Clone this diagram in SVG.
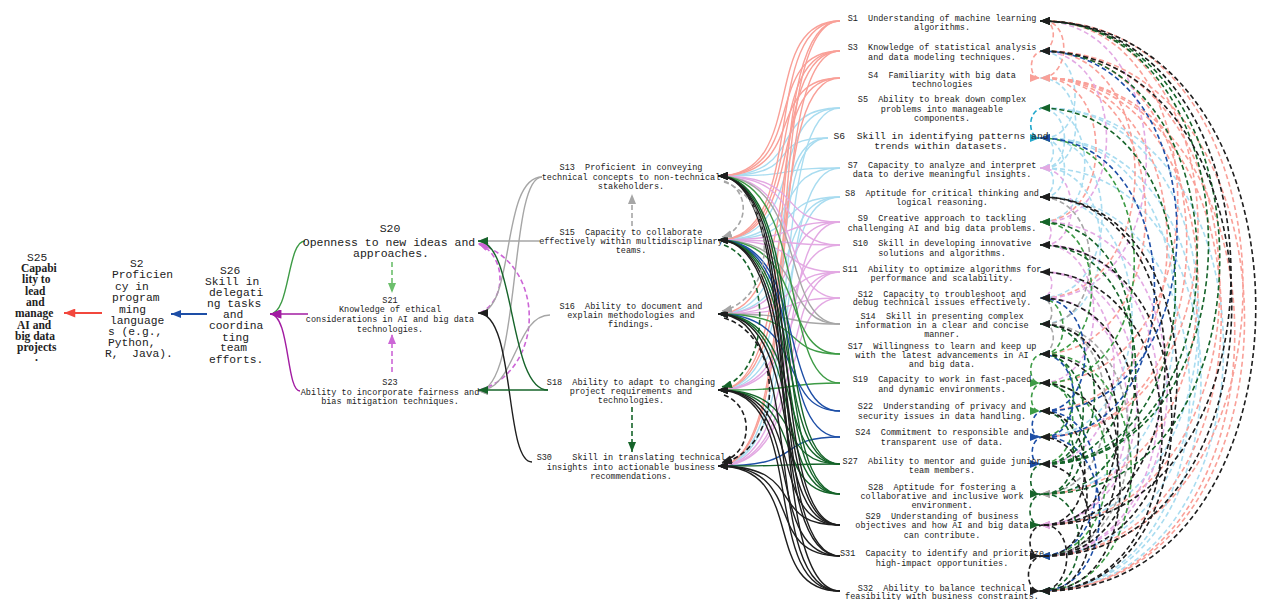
<svg xmlns="http://www.w3.org/2000/svg" width="1268" height="600" viewBox="0 0 1268 600">
<style>
text{font-family:"Liberation Mono","DejaVu Sans Mono",monospace;fill:#222;white-space:pre;}
.t{font-size:8.5px;text-anchor:middle;}
.L{font-size:11.3px;}
.sr{font-family:"Liberation Serif","Times New Roman",serif;font-weight:bold;font-size:11.5px;}
.d{fill:none;stroke-width:1.6;stroke-dasharray:5 3;}
.s{fill:none;stroke-width:1.4;}
.k{stroke:#1e1e1e;marker-end:url(#mk)}
.g{stroke:#16642a;marker-end:url(#mg)}
.lg{stroke:#3d9b45;marker-end:url(#mlg)}
.b{stroke:#1d4ea6;marker-end:url(#mb)}
.lb{stroke:#a9dcf0;marker-end:url(#mlb)}
.p{stroke:#e3a9e3;marker-end:url(#mp)}
.gr{stroke:#a6a6a6;marker-end:url(#mgr)}
.sa{stroke:#f9a098;marker-end:url(#msa)}
.c{stroke:#22a8cc;marker-end:url(#mc)}
.rd{stroke:#f2473c;marker-end:url(#mrd)}
.pu{stroke:#a21ca2;marker-end:url(#mpu)}
.pd{stroke:#cc66d6;marker-end:url(#mpd)}
.lgd{stroke:#6cbf6c;marker-end:url(#mlgd)}
</style>
<defs>
<marker id="mk" viewBox="0 0 10 8" refX="10" refY="4" markerWidth="10" markerHeight="8" markerUnits="userSpaceOnUse" orient="auto"><path d="M0 0L10 4L0 8z" fill="#1e1e1e"/></marker>
<marker id="mg" viewBox="0 0 10 8" refX="10" refY="4" markerWidth="10" markerHeight="8" markerUnits="userSpaceOnUse" orient="auto"><path d="M0 0L10 4L0 8z" fill="#16642a"/></marker>
<marker id="mlg" viewBox="0 0 10 8" refX="10" refY="4" markerWidth="10" markerHeight="8" markerUnits="userSpaceOnUse" orient="auto"><path d="M0 0L10 4L0 8z" fill="#3d9b45"/></marker>
<marker id="mb" viewBox="0 0 10 8" refX="10" refY="4" markerWidth="10" markerHeight="8" markerUnits="userSpaceOnUse" orient="auto"><path d="M0 0L10 4L0 8z" fill="#1d4ea6"/></marker>
<marker id="mlb" viewBox="0 0 10 8" refX="10" refY="4" markerWidth="10" markerHeight="8" markerUnits="userSpaceOnUse" orient="auto"><path d="M0 0L10 4L0 8z" fill="#a9dcf0"/></marker>
<marker id="mp" viewBox="0 0 10 8" refX="10" refY="4" markerWidth="10" markerHeight="8" markerUnits="userSpaceOnUse" orient="auto"><path d="M0 0L10 4L0 8z" fill="#e3a9e3"/></marker>
<marker id="mgr" viewBox="0 0 10 8" refX="10" refY="4" markerWidth="10" markerHeight="8" markerUnits="userSpaceOnUse" orient="auto"><path d="M0 0L10 4L0 8z" fill="#a6a6a6"/></marker>
<marker id="msa" viewBox="0 0 10 8" refX="10" refY="4" markerWidth="10" markerHeight="8" markerUnits="userSpaceOnUse" orient="auto"><path d="M0 0L10 4L0 8z" fill="#f9a098"/></marker>
<marker id="mc" viewBox="0 0 10 8" refX="10" refY="4" markerWidth="10" markerHeight="8" markerUnits="userSpaceOnUse" orient="auto"><path d="M0 0L10 4L0 8z" fill="#22a8cc"/></marker>
<marker id="mrd" viewBox="0 0 10 8" refX="10" refY="4" markerWidth="12" markerHeight="9" markerUnits="userSpaceOnUse" orient="auto"><path d="M0 0L10 4L0 8z" fill="#f2473c"/></marker>
<marker id="mpu" viewBox="0 0 10 8" refX="10" refY="4" markerWidth="12" markerHeight="9" markerUnits="userSpaceOnUse" orient="auto"><path d="M0 0L10 4L0 8z" fill="#a21ca2"/></marker>
<marker id="mpd" viewBox="0 0 10 8" refX="10" refY="4" markerWidth="10" markerHeight="8" markerUnits="userSpaceOnUse" orient="auto"><path d="M0 0L10 4L0 8z" fill="#cc66d6"/></marker>
<marker id="mlgd" viewBox="0 0 10 8" refX="10" refY="4" markerWidth="10" markerHeight="8" markerUnits="userSpaceOnUse" orient="auto"><path d="M0 0L10 4L0 8z" fill="#6cbf6c"/></marker>
</defs>
<rect width="1268" height="600" fill="#fff"/>
<g id="connectors">
<g id="arcs-lightblue">
<path class="d c" d="M1044 108C1027 108 1027 138 1040 138"/>
<path class="d lb" d="M1044 138C1057 138 1057 168 1040 168"/>
<path class="d lb" d="M1044 168C1057 168 1057 197 1040 197"/>
<path class="d lb" d="M1044 108C1251 108 1251 525 1040 525"/>
<path class="d lb" d="M1044 138C1251 138 1251 556 1040 556"/>
<path class="d lb" d="M1044 168C1254 168 1254 591 1040 591"/>
<path class="d lb" d="M1044 108C1284 108 1284 591 1040 591"/>
<path class="d lb" d="M1044 138C1220 138 1220 494 1040 494"/>
<path class="d lb" d="M1044 197C1162 197 1162 437 1040 437"/>
<path class="d lb" d="M1044 168C1120 168 1120 324 1040 324"/>
<path class="d lb" d="M1044 108C1099 108 1099 222 1040 222"/>
<path class="d lb" d="M1044 138C1122 138 1122 298 1040 298"/>
<path class="d lb" d="M1044 168C1072 168 1072 108 1040 108"/>
<path class="d lb" d="M1044 197C1072 197 1072 138 1040 138"/>
<path class="d lb" d="M1044 168C1087 168 1087 78 1040 78"/>
<path class="d lb" d="M1044 138C1086 138 1086 51 1040 51"/>
<path class="d lb" d="M1044 197C1239 197 1239 591 1040 591"/>
</g>
<g id="arcs-salmon">
<path class="d sa" d="M1044 21C1310 21 1310 556 1040 556"/>
<path class="d sa" d="M1044 51C1312 51 1312 591 1040 591"/>
<path class="d sa" d="M1044 78C1299 78 1299 591 1040 591"/>
<path class="d sa" d="M1044 51C1279 51 1279 525 1040 525"/>
<path class="d sa" d="M1044 78C1250 78 1250 494 1040 494"/>
<path class="d sa" d="M1044 51C1235 51 1235 437 1040 437"/>
<path class="d sa" d="M1044 21C1223 21 1223 383 1040 383"/>
<path class="d sa" d="M1044 78C1180 78 1180 354 1040 354"/>
<path class="d sa" d="M1044 51C1166 51 1166 298 1040 298"/>
<path class="d sa" d="M1044 21C1057 21 1057 51 1040 51"/>
<path class="d sa" d="M1044 51C1028 51 1028 78 1040 78"/>
<path class="d sa" d="M1044 78C1114 78 1114 222 1040 222"/>
<path class="d sa" d="M1044 21C1071 21 1071 78 1040 78"/>
<path class="d sa" d="M1044 21C1250 21 1250 437 1040 437"/>
<path class="d sa" d="M1044 78C1281 78 1281 556 1040 556"/>
<path class="d sa" d="M1044 78C1209 78 1209 411 1040 411"/>
</g>
<g id="arcs-plum">
<path class="d p" d="M1044 222C1054 222 1054 245 1040 245"/>
<path class="d p" d="M1044 272C1055 272 1055 298 1040 298"/>
<path class="d p" d="M1044 222C1209 222 1209 556 1040 556"/>
<path class="d p" d="M1044 245C1198 245 1198 556 1040 556"/>
<path class="d p" d="M1044 298C1156 298 1156 525 1040 525"/>
<path class="d p" d="M1044 272C1138 272 1138 464 1040 464"/>
<path class="d p" d="M1044 245C1111 245 1111 383 1040 383"/>
<path class="d p" d="M1044 222C1128 222 1128 51 1040 51"/>
<path class="d p" d="M1044 298C1181 298 1181 21 1040 21"/>
<path class="d p" d="M1044 272C1169 272 1169 525 1040 525"/>
<path class="d p" d="M1044 245C1081 245 1081 168 1040 168"/>
</g>
<g id="arcs-gray">
<path class="d gr" d="M1044 324C1055 324 1055 298 1040 298"/>
<path class="d gr" d="M1044 324C1057 324 1057 354 1040 354"/>
<path class="d gr" d="M1044 324C1127 324 1127 494 1040 494"/>
<path class="d gr" d="M1044 324C1158 324 1158 556 1040 556"/>
<path class="d gr" d="M1044 324C1106 324 1106 197 1040 197"/>
</g>
<g id="arcs-green">
<path class="d lg" d="M1044 354C1027 354 1027 383 1040 383"/>
<path class="d lg" d="M1044 383C1028 383 1028 411 1040 411"/>
<path class="d lg" d="M1044 354C1084 354 1084 437 1040 437"/>
<path class="d lg" d="M1044 383C1083 383 1083 464 1040 464"/>
<path class="d lg" d="M1044 354C1108 354 1108 222 1040 222"/>
<path class="d lg" d="M1044 383C1129 383 1129 556 1040 556"/>
<path class="d lg" d="M1044 354C1161 354 1161 591 1040 591"/>
<path class="d lg" d="M1044 383C1165 383 1165 138 1040 138"/>
<path class="d lg" d="M1044 354C1070 354 1070 298 1040 298"/>
</g>
<g id="arcs-blue">
<path class="d b" d="M1044 411C1222 411 1222 51 1040 51"/>
<path class="d b" d="M1044 437C1192 437 1192 138 1040 138"/>
<path class="d b" d="M1044 411C1029 411 1029 437 1040 437"/>
<path class="d b" d="M1044 437C1029 437 1029 464 1040 464"/>
<path class="d b" d="M1044 411C1115 411 1115 556 1040 556"/>
<path class="d b" d="M1044 437C1119 437 1119 591 1040 591"/>
<path class="d b" d="M1044 411C1099 411 1099 298 1040 298"/>
<path class="d b" d="M1044 437C1084 437 1084 354 1040 354"/>
</g>
<g id="arcs-darkgreen">
<path class="d g" d="M1044 464C1264 464 1264 21 1040 21"/>
<path class="d g" d="M1044 494C1279 494 1279 21 1040 21"/>
<path class="d g" d="M1044 464C1249 464 1249 51 1040 51"/>
<path class="d g" d="M1044 464C1220 464 1220 108 1040 108"/>
<path class="d g" d="M1044 494C1167 494 1167 245 1040 245"/>
<path class="d g" d="M1044 464C1097 464 1097 354 1040 354"/>
<path class="d g" d="M1044 494C1098 494 1098 383 1040 383"/>
<path class="d g" d="M1044 494C1026 494 1026 525 1040 525"/>
<path class="d g" d="M1044 464C1112 464 1112 324 1040 324"/>
<path class="d g" d="M1044 494C1084 494 1084 411 1040 411"/>
<path class="d g" d="M1044 464C1163 464 1163 222 1040 222"/>
<path class="d g" d="M1044 494C1091 494 1091 591 1040 591"/>
<path class="d g" d="M1044 464C1027 464 1027 494 1040 494"/>
</g>
<g id="arcs-black">
<path class="d k" d="M1044 591C1327 591 1327 21 1040 21"/>
<path class="d k" d="M1044 525C1294 525 1294 21 1040 21"/>
<path class="d k" d="M1044 556C1295 556 1295 51 1040 51"/>
<path class="d k" d="M1044 525C1206 525 1206 197 1040 197"/>
<path class="d k" d="M1044 591C1215 591 1215 245 1040 245"/>
<path class="d k" d="M1044 556C1171 556 1171 298 1040 298"/>
<path class="d k" d="M1044 525C1143 525 1143 324 1040 324"/>
<path class="d k" d="M1044 556C1143 556 1143 354 1040 354"/>
<path class="d k" d="M1044 591C1146 591 1146 383 1040 383"/>
<path class="d k" d="M1044 525C1099 525 1099 411 1040 411"/>
<path class="d k" d="M1044 556C1102 556 1102 437 1040 437"/>
<path class="d k" d="M1044 591C1106 591 1106 464 1040 464"/>
<path class="d k" d="M1044 525C1026 525 1026 556 1040 556"/>
<path class="d k" d="M1044 556C1024 556 1024 591 1040 591"/>
<path class="d k" d="M1044 591C1202 591 1202 272 1040 272"/>
<path class="d k" d="M1044 525C1075 525 1075 591 1040 591"/>
<path class="d k" d="M1044 556C1222 556 1222 197 1040 197"/>
</g>
<g id="fan">
<path class="s lb" d="M840 108C765 108 810 176 718 176"/>
<path class="s lb" d="M840 108C765 108 810 240 718 240"/>
<path class="s lb" d="M840 108C765 108 810 466 718 466"/>
<path class="s lb" d="M828 138C760 138 810 176 718 176"/>
<path class="s lb" d="M828 138C760 138 810 314 718 314"/>
<path class="s lb" d="M828 138C760 138 810 390 718 390"/>
<path class="s lb" d="M840 168C768 168 810 176 718 176"/>
<path class="s lb" d="M840 168C768 168 810 240 718 240"/>
<path class="s lb" d="M840 168C768 168 810 466 718 466"/>
<path class="s lb" d="M840 197C770 197 810 240 718 240"/>
<path class="s lb" d="M840 197C770 197 810 314 718 314"/>
<path class="s lb" d="M840 197C770 197 810 390 718 390"/>
<path class="s sa" d="M840 21C758 21 810 176 718 176"/>
<path class="s sa" d="M840 21C758 21 810 240 718 240"/>
<path class="s sa" d="M840 21C758 21 810 390 718 390"/>
<path class="s sa" d="M840 21C758 21 810 466 718 466"/>
<path class="s sa" d="M840 51C760 51 810 176 718 176"/>
<path class="s sa" d="M840 51C760 51 810 240 718 240"/>
<path class="s sa" d="M840 51C760 51 810 314 718 314"/>
<path class="s sa" d="M840 51C760 51 810 466 718 466"/>
<path class="s sa" d="M840 78C762 78 810 176 718 176"/>
<path class="s sa" d="M840 78C762 78 810 240 718 240"/>
<path class="s sa" d="M840 78C762 78 810 390 718 390"/>
<path class="s p" d="M840 222C772 222 810 176 718 176"/>
<path class="s p" d="M840 222C772 222 810 240 718 240"/>
<path class="s p" d="M840 222C772 222 810 314 718 314"/>
<path class="s p" d="M840 222C772 222 810 466 718 466"/>
<path class="s p" d="M840 245C772 245 810 176 718 176"/>
<path class="s p" d="M840 245C772 245 810 240 718 240"/>
<path class="s p" d="M840 245C772 245 810 390 718 390"/>
<path class="s p" d="M840 272C775 272 810 240 718 240"/>
<path class="s p" d="M840 272C775 272 810 314 718 314"/>
<path class="s p" d="M840 272C775 272 810 390 718 390"/>
<path class="s p" d="M840 272C775 272 810 466 718 466"/>
<path class="s p" d="M840 298C775 298 810 176 718 176"/>
<path class="s p" d="M840 298C775 298 810 314 718 314"/>
<path class="s p" d="M840 298C775 298 810 466 718 466"/>
<path class="s gr" d="M840 324C778 324 810 176 718 176"/>
<path class="s gr" d="M840 324C778 324 810 240 718 240"/>
<path class="s gr" d="M840 324C778 324 810 314 718 314"/>
<path class="s lg" d="M840 354C778 354 810 240 718 240"/>
<path class="s lg" d="M840 354C778 354 810 314 718 314"/>
<path class="s lg" d="M840 383C778 383 810 390 718 390"/>
<path class="s lg" d="M840 383C778 383 810 176 718 176"/>
<path class="s b" d="M840 411C775 411 810 314 718 314"/>
<path class="s b" d="M840 411C775 411 810 240 718 240"/>
<path class="s b" d="M840 437C772 437 810 466 718 466"/>
<path class="s b" d="M840 437C772 437 810 240 718 240"/>
<path class="s g" d="M840 464C770 464 810 176 718 176"/>
<path class="s g" d="M840 464C770 464 810 240 718 240"/>
<path class="s g" d="M840 464C770 464 810 314 718 314"/>
<path class="s g" d="M840 464C770 464 810 390 718 390"/>
<path class="s g" d="M840 464C770 464 810 466 718 466"/>
<path class="s g" d="M840 494C768 494 810 176 718 176"/>
<path class="s g" d="M840 494C768 494 810 240 718 240"/>
<path class="s g" d="M840 494C768 494 810 314 718 314"/>
<path class="s g" d="M840 494C768 494 810 390 718 390"/>
<path class="s k" d="M840 525C764 525 810 176 718 176"/>
<path class="s k" d="M840 525C764 525 810 240 718 240"/>
<path class="s k" d="M840 525C764 525 810 314 718 314"/>
<path class="s k" d="M840 525C764 525 810 390 718 390"/>
<path class="s k" d="M840 525C764 525 810 466 718 466"/>
<path class="s k" d="M840 556C760 556 810 176 718 176"/>
<path class="s k" d="M840 556C760 556 810 240 718 240"/>
<path class="s k" d="M840 556C760 556 810 390 718 390"/>
<path class="s k" d="M840 556C760 556 810 466 718 466"/>
<path class="s k" d="M840 591C758 591 810 176 718 176"/>
<path class="s k" d="M840 591C758 591 810 314 718 314"/>
<path class="s k" d="M840 591C758 591 810 390 718 390"/>
<path class="s k" d="M840 591C758 591 810 466 718 466"/>
</g>
<path class="d gr" d="M724 181C750 190 750 228 722 237"/>
<path class="d gr" d="M724 182C778 200 778 298 722 311"/>
<path class="d g" d="M724 245C772 262 772 372 722 387"/>
<path class="d k" d="M724 395C754 406 754 452 722 462"/>
<path class="d k" d="M724 318C785 336 785 448 722 463"/>
<path class="d gr" d="M632 226V194"/>
<path class="d g" d="M632 407V452"/>
<path class="d pd" d="M480 313C507 300 507 256 478 243"/>
<path class="d pd" d="M480 390C546 370 546 262 478 244"/>
<path class="s gr" d="M540 241H478"/>
<path class="s gr" d="M542 177C500 177 516 313 478 313"/>
<path class="s gr" d="M542 177C508 177 522 391 478 391"/>
<path class="s gr" d="M550 315C515 315 516 391 478 391"/>
<path class="s k" d="M532 462C504 462 516 313 478 313"/>
<path class="s g" d="M548 390C508 390 516 241 478 241"/>
<path class="s g" d="M548 390H478"/>
<path class="d lgd" d="M392 262V293"/>
<path class="d pd" d="M392 372V334"/>
<path class="s lg" d="M305 241C287 241 290 314 270 314"/>
<path class="s pu" d="M300 391C286 391 290 314 270 314"/>
<path class="s pu" d="M308 314H270"/>
<path class="s b" style="stroke-width:1.8" d="M207 314H171"/>
<path class="s rd" style="stroke-width:1.8" d="M102 313H64"/>
</g>
<g id="S25"><text x="27" y="261" style="font-size:11.3px">S25</text><text class="sr" x="21" y="272">Capabi</text><text class="sr" x="22" y="283">lity to</text><text class="sr" x="25" y="295">lead</text><text class="sr" x="26" y="306">and</text><text class="sr" x="15" y="317">manage</text><text class="sr" x="17" y="329">AI and</text><text class="sr" x="15" y="340">big data</text><text class="sr" x="17" y="351">projects</text><text class="sr" x="35" y="361">.</text></g>
<g id="S2"><text class="L" x="130" y="267">S2</text><text class="L" x="112" y="278">Proficien</text><text class="L" x="115" y="290">cy in</text><text class="L" x="112" y="301">program</text><text class="L" x="119" y="313">ming</text><text class="L" x="110" y="324">language</text><text class="L" x="108" y="335">s (e.g.,</text><text class="L" x="108" y="346">Python,</text><text class="L" x="105" y="357">R,  Java).</text></g>
<g id="S26"><text class="L" x="220" y="274">S26</text><text class="L" x="205" y="285">Skill in</text><text class="L" x="209" y="296">delegati</text><text class="L" x="207" y="307">ng tasks</text><text class="L" x="223" y="318">and</text><text class="L" x="209" y="329">coordina</text><text class="L" x="222" y="341">ting</text><text class="L" x="220" y="351">team</text><text class="L" x="209" y="363">efforts.</text></g>
<g id="S20"><text x="390" y="232" style="font-size:11.5px;text-anchor:middle">S20</text><text x="389" y="246" style="font-size:11.5px;text-anchor:middle">Openness to new ideas and</text><text x="391" y="257" style="font-size:11.5px;text-anchor:middle">approaches.</text></g>
<g id="S21"><text class="t" x="390" y="303">S21</text><text class="t" x="390" y="312">Knowledge of ethical</text><text class="t" x="390" y="322">considerations in AI and big data</text><text class="t" x="390" y="332">technologies.</text></g>
<g id="S23"><text class="t" x="390" y="385">S23</text><text class="t" x="390" y="395">Ability to incorporate fairness and</text><text class="t" x="390" y="404">bias mitigation techniques.</text></g>
<g id="S13"><text class="t" x="631" y="170">S13  Proficient in conveying</text><text class="t" x="631" y="180">technical concepts to non-technical</text><text class="t" x="631" y="189">stakeholders.</text></g>
<g id="S15"><text class="t" x="631" y="235">S15  Capacity to collaborate</text><text class="t" x="631" y="244">effectively within multidisciplinary</text><text class="t" x="631" y="253">teams.</text></g>
<g id="S16"><text class="t" x="631" y="309">S16  Ability to document and</text><text class="t" x="631" y="318">explain methodologies and</text><text class="t" x="631" y="327">findings.</text></g>
<g id="S18"><text class="t" x="631" y="385">S18  Ability to adapt to changing</text><text class="t" x="631" y="394">project requirements and</text><text class="t" x="631" y="403">technologies.</text></g>
<g id="S30"><text class="t" x="631" y="460">S30    Skill in translating technical</text><text class="t" x="631" y="470">insights into actionable business</text><text class="t" x="631" y="479">recommendations.</text></g>
<g id="S1"><text class="t" x="942" y="21">S1  Understanding of machine learning</text><text class="t" x="942" y="30">algorithms.</text></g>
<g id="S3"><text class="t" x="942" y="50">S3  Knowledge of statistical analysis</text><text class="t" x="942" y="60">and data modeling techniques.</text></g>
<g id="S4"><text class="t" x="942" y="78">S4  Familiarity with big data</text><text class="t" x="942" y="87">technologies</text></g>
<g id="S5"><text class="t" x="942" y="102">S5  Ability to break down complex</text><text class="t" x="942" y="112">problems into manageable</text><text class="t" x="942" y="121">components.</text></g>
<g id="S6"><text class="t" x="941" y="139" style="font-size:9.7px">S6  Skill in identifying patterns and</text><text class="t" x="941" y="149" style="font-size:9.7px">trends within datasets.</text></g>
<g id="S7"><text class="t" x="942" y="168">S7  Capacity to analyze and interpret</text><text class="t" x="942" y="177">data to derive meaningful insights.</text></g>
<g id="S8"><text class="t" x="942" y="196">S8  Aptitude for critical thinking and</text><text class="t" x="942" y="205">logical reasoning.</text></g>
<g id="S9"><text class="t" x="942" y="221">S9  Creative approach to tackling</text><text class="t" x="942" y="231">challenging AI and big data problems.</text></g>
<g id="S10"><text class="t" x="942" y="246">S10  Skill in developing innovative</text><text class="t" x="942" y="256">solutions and algorithms.</text></g>
<g id="S11"><text class="t" x="942" y="272">S11  Ability to optimize algorithms for</text><text class="t" x="942" y="281">performance and scalability.</text></g>
<g id="S12"><text class="t" x="942" y="297">S12  Capacity to troubleshoot and</text><text class="t" x="942" y="305">debug technical issues effectively.</text></g>
<g id="S14"><text class="t" x="942" y="319">S14  Skill in presenting complex</text><text class="t" x="942" y="328">information in a clear and concise</text><text class="t" x="942" y="337">manner.</text></g>
<g id="S17"><text class="t" x="942" y="349">S17  Willingness to learn and keep up</text><text class="t" x="942" y="358">with the latest advancements in AI</text><text class="t" x="942" y="367">and big data.</text></g>
<g id="S19"><text class="t" x="942" y="382">S19  Capacity to work in fast-paced</text><text class="t" x="942" y="392">and dynamic environments.</text></g>
<g id="S22"><text class="t" x="942" y="409">S22  Understanding of privacy and</text><text class="t" x="942" y="419">security issues in data handling.</text></g>
<g id="S24"><text class="t" x="942" y="435">S24  Commitment to responsible and</text><text class="t" x="942" y="445">transparent use of data.</text></g>
<g id="S27"><text class="t" x="942" y="464">S27  Ability to mentor and guide junior</text><text class="t" x="942" y="473">team members.</text></g>
<g id="S28"><text class="t" x="942" y="490">S28  Aptitude for fostering a</text><text class="t" x="942" y="499">collaborative and inclusive work</text><text class="t" x="942" y="508">environment.</text></g>
<g id="S29"><text class="t" x="942" y="519">S29  Understanding of business</text><text class="t" x="942" y="528">objectives and how AI and big data</text><text class="t" x="942" y="538">can contribute.</text></g>
<g id="S31"><text class="t" x="942" y="556">S31  Capacity to identify and prioritize</text><text class="t" x="942" y="566">high-impact opportunities.</text></g>
<g id="S32"><text class="t" x="942" y="591">S32  Ability to balance technical</text><text class="t" x="942" y="599">feasibility with business constraints.</text></g>
</svg>
